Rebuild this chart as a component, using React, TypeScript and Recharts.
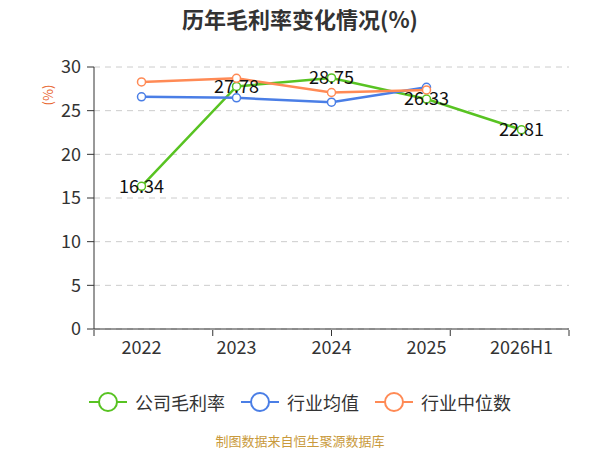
import React from 'react';
import { LineChart, Line, XAxis, YAxis, CartesianGrid, Legend, LabelList } from 'recharts';

const categories = ['2022', '2023', '2024', '2025', '2026H1'];
const companyMargin = [16.34, 27.78, 28.75, 26.33, 22.81];
const industryAvg: (number | null)[] = [26.59, 26.47, 25.97, 27.68, null];
const industryMedian: (number | null)[] = [28.29, 28.70, 27.08, 27.38, null];
const yTicks = [0, 5, 10, 15, 20, 25, 30];
const boundaryTicks = [0, 1, 2, 3, 4, 5];

const seriesNames = ['公司毛利率', '行业均值', '行业中位数'];
const colors = ['#58c322', '#4a7ee6', '#ff8a55'];

const data = categories.map((c, i) => ({
  name: c,
  company: companyMargin[i],
  avg: industryAvg[i],
  median: industryMedian[i],
}));

const FONT = '"Noto Sans CJK SC", "Noto Sans", sans-serif';

const LegendContent = (props: any) => {
  const payload = [...(props.payload || [])].sort(
    (a: any, b: any) => seriesNames.indexOf(a.value) - seriesNames.indexOf(b.value)
  );
  return (
    <div style={{ display: 'flex', justifyContent: 'center', alignItems: 'center', fontFamily: FONT }}>
      {payload.map((p: any, i: number) => (
        <div key={i} style={{ display: 'flex', alignItems: 'center', marginRight: i < payload.length - 1 ? 16 : 0 }}>
          <svg width={38} height={22} style={{ marginRight: 8 }}>
            <line x1={0} y1={11} x2={38} y2={11} stroke={p.color} strokeWidth={2} />
            <circle cx={19} cy={11} r={9} fill="#fff" stroke={p.color} strokeWidth={2} />
          </svg>
          <span style={{ fontSize: 18, color: '#333' }}>{p.value}</span>
        </div>
      ))}
    </div>
  );
};

const YLabel = (props: any) => {
  const vb = props.viewBox || { x: 0, y: 0 };
  const x = vb.x + 47;
  const y = vb.y + 28;
  return (
    <text x={x} y={y} fill="#e8632b" fontSize={13} fontFamily={FONT} textAnchor="middle" dominantBaseline="central" transform={`rotate(-90 ${x} ${y})`}>
      (%)
    </text>
  );
};

const NoTick = () => <g />;

export default function App() {
  return (
    <div style={{ position: 'absolute', left: 0, top: 0, width: 600, height: 450, background: '#fff', fontFamily: FONT }}>
      <div style={{ position: 'absolute', left: 0, top: 3, width: 600, textAlign: 'center', fontSize: 22, fontWeight: 'bold', color: '#333', lineHeight: '30px' }}>
        历年毛利率变化情况(%)
      </div>
      <LineChart width={600} height={450} data={data} margin={{ top: 67, right: 31, left: 0, bottom: 55 }}>
        <CartesianGrid vertical={false} stroke="#cccccc" strokeDasharray="6 5" />
        <XAxis
          dataKey="name"
          scale="band"
          stroke="#333"
          tick={{ fill: '#333', fontSize: 18, fontFamily: FONT }}
          tickLine={false}
          tickSize={6}
          tickMargin={6}
          height={1}
        />
        <XAxis
          xAxisId="bounds"
          type="number"
          domain={[0, 5]}
          ticks={boundaryTicks}
          tick={<NoTick />}
          tickLine={{ stroke: '#333' }}
          axisLine={false}
          stroke="#333"
          tickSize={6}
          height={39}
        />
        <YAxis
          domain={[0, 30]}
          ticks={yTicks}
          width={94}
          stroke="#333"
          tick={{ fill: '#333', fontSize: 18, fontFamily: FONT }}
          tickSize={7}
          tickMargin={6}
          label={<YLabel />}
        />
        <Legend
          verticalAlign="bottom"
          content={<LegendContent />}
          wrapperStyle={{ left: 0, width: 600, bottom: 35 }}
        />
        <Line dataKey="company" name={seriesNames[0]} stroke={colors[0]} strokeWidth={2.5} isAnimationActive={false}
          dot={{ r: 4, fill: '#fff', stroke: colors[0], strokeWidth: 1.5 }} activeDot={false}>
          <LabelList dataKey="company" position="center" fill="#111" fontSize={18} fontFamily={FONT} />
        </Line>
        <Line dataKey="avg" name={seriesNames[1]} stroke={colors[1]} strokeWidth={2.5} isAnimationActive={false}
          dot={{ r: 4, fill: '#fff', stroke: colors[1], strokeWidth: 1.5 }} activeDot={false} />
        <Line dataKey="median" name={seriesNames[2]} stroke={colors[2]} strokeWidth={2.5} isAnimationActive={false}
          dot={{ r: 4, fill: '#fff', stroke: colors[2], strokeWidth: 1.5 }} activeDot={false} />
      </LineChart>
      <div style={{ position: 'absolute', left: 0, top: 432, width: 600, textAlign: 'center', fontSize: 13, color: '#c99a3c', lineHeight: '18px' }}>
        制图数据来自恒生聚源数据库
      </div>
    </div>
  );
}
